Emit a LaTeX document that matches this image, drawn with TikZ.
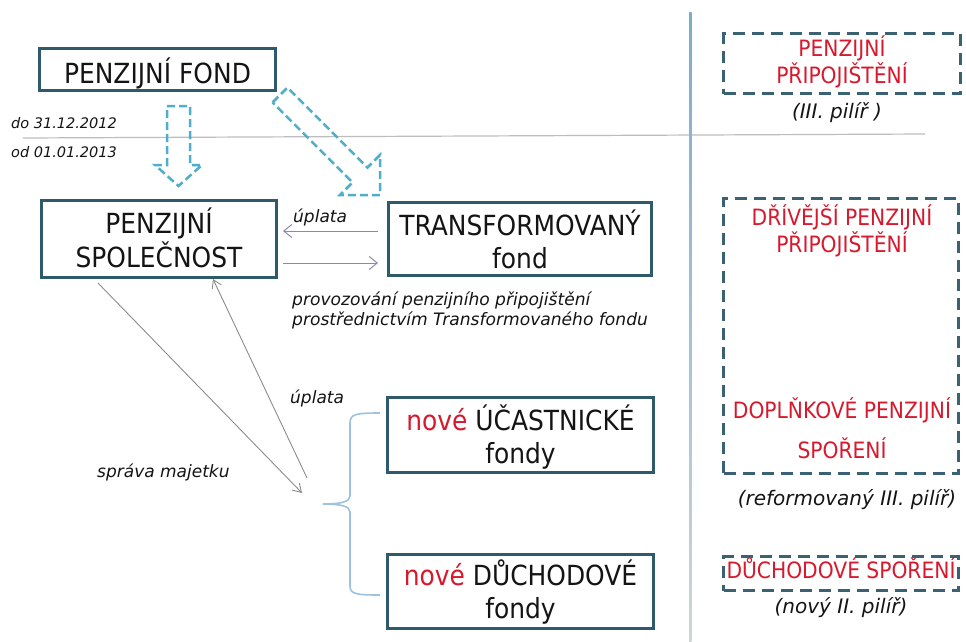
\documentclass[tikz,border=0pt]{standalone}
\usepackage{fontspec}
\setmainfont{DejaVu Sans}[FakeStretch=0.9]
\newfontfamily\itf{DejaVu Sans}
\usetikzlibrary{arrows.meta}
\definecolor{boxc}{HTML}{2E5A6B}
\definecolor{dboxc}{HTML}{3A6272}
\definecolor{blkc}{HTML}{4FAEC9}
\definecolor{redc}{HTML}{D8192D}
\definecolor{txtc}{HTML}{141414}
\definecolor{harr}{HTML}{8A8AB0}
\definecolor{garr}{HTML}{8C8C8C}
\definecolor{hline}{HTML}{BDBDBD}
\definecolor{vtop}{HTML}{78AECB}
\definecolor{vbot}{HTML}{CDD5DA}
\definecolor{bracec}{HTML}{9CC2E0}
\newcommand\bxfont{\fontsize{27.7}{34}\selectfont}
\newcommand\redfont{\fontsize{22.5}{23}\selectfont}
\begin{document}
\begin{tikzpicture}[x=1pt,y=-1pt,
  box/.style={draw=boxc, line width=3pt, fill=white, inner sep=0pt, align=center, font=\bxfont, text=txtc},
  dbox/.style={draw=dboxc, line width=2.8pt, dash pattern=on 12pt off 7pt, inner sep=0pt, align=center, font=\redfont, text=redc},
  redt/.style={font=\redfont, text=redc, inner sep=0pt, anchor=base},
  itl/.style={font=\itf\itshape\fontsize{17}{20}\selectfont, text=txtc, inner sep=0pt, anchor=base west},
  datet/.style={font=\itf\itshape\fontsize{14.5}{17}\selectfont, text=txtc, inner sep=0pt, anchor=base west},
  capt/.style={font=\itf\itshape\fontsize{17.1}{20}\selectfont, text=txtc, inner sep=0pt, anchor=base west},
  pil/.style={font=\itf\itshape\fontsize{20}{22}\selectfont, text=txtc, inner sep=0pt, anchor=base},
  blk/.style={draw=blkc, line width=2.5pt, dash pattern=on 8pt off 4pt, line join=miter},
  harrow/.style={draw=harr, line width=1pt, -{Straight Barb[length=8pt,width=13pt]}},
  garrow/.style={draw=garr, line width=0.9pt, -{Straight Barb[length=8pt,width=10pt]}}
]
\fill[white] (0,0) rectangle (966,641);
\useasboundingbox (0,0) rectangle (966,641);

% separator lines
\draw[hline, line width=1.2pt] (23,138) -- (925,134);
\shade[top color=vtop, bottom color=vbot] (689,12) rectangle (691.5,641);

% boxes
\node[box, minimum width=236pt, minimum height=42pt, text height=27pt, text depth=0pt] (fond) at (157.5,69.5) {PENZIJNÍ FOND};
\node[box, minimum width=235pt, minimum height=77pt, text height=56pt, text depth=0pt] (spol) at (159,239) {PENZIJNÍ\\SPOLEČNOST};
\node[box, minimum width=263pt, minimum height=73pt, text height=58pt, text depth=0pt] (trans) at (520,239) {TRANSFORMOVANÝ\\[-1pt]fond};
\node[box, minimum width=266pt, minimum height=75pt, text height=56pt, text depth=0pt] (ucast) at (520.5,435) {{\color{redc}nové} ÚČASTNICKÉ\\[-1pt]fondy};
\node[box, minimum width=266pt, minimum height=74pt, text height=53pt, text depth=0pt] (duch) at (520.5,591.5) {{\color{redc}nové} DŮCHODOVÉ\\[-1pt]fondy};

% dashed boxes (right column)
\node[dbox, minimum width=237pt, minimum height=60pt, text height=39pt, text depth=0pt] (pp) at (842,63.5) {PENZIJNÍ\\PŘIPOJIŠTĚNÍ};
\node[dbox, minimum width=235pt, minimum height=275pt] (dpp) at (841,336) {};
\node[dbox, minimum width=235pt, minimum height=34pt, text height=17pt, text depth=8pt] (ds) at (841,573.5) {DŮCHODOVÉ SPOŘENÍ};
\node[redt] (dpp1) at (842,225) {DŘÍVĚJŠÍ PENZIJNÍ};
\node[redt] (dpp2) at (842,252) {PŘIPOJIŠTĚNÍ};
\node[redt] (dpp3) at (842,418) {DOPLŇKOVÉ PENZIJNÍ};
\node[redt] (dpp4) at (842,458) {SPOŘENÍ};
\node[pil] (pil3) at (837,118) {(III. pilíř )};
\node[pil] (pil3r) at (847,505) {(reformovaný III. pilíř)};
\node[pil] (pil2) at (841,613) {(nový II. pilíř)};

% dates
\node[datet] (do) at (11,128) {do 31.12.2012};
\node[datet] (od) at (11,157) {od 01.01.2013};

% dashed block arrows
\draw[blk] (167,106) -- (190,106) -- (190,165) -- (202,165) -- (178.5,186) -- (155,165) -- (167,165) -- cycle;
\draw[blk] (272.6,102.4) -- (287.4,87.6) -- (367.4,167.6) -- (380,155) -- (380,195) -- (340,195) -- (352.6,182.4) -- cycle;

% horizontal arrows
\draw[harrow] ([xshift=-9pt,yshift=8pt]trans.west) -- ([xshift=5pt,yshift=8pt]spol.east);
\draw[harrow] ([xshift=5pt,yshift=-24pt]spol.east) -- ([xshift=-9pt,yshift=-24pt]trans.west);
\node[itl] (upl1) at (293,222) {úplata};
\node[capt] (cap1) at (292,305) {provozování penzijního připojištění};
\node[capt] (cap2) at (292,325) {prostřednictvím Transformovaného fondu};

% brace
\draw[bracec, line width=1.6pt] (380,413) .. controls (356,413) and (350,414) .. (350,423) -- (350,496) .. controls (350,502) and (340,504) .. (323,504) .. controls (340,504) and (350,506) .. (350,512) -- (350,586) .. controls (350,594) and (356,595) .. (380,595);

% diagonal arrows
\coordinate (conv1) at (302,493);
\coordinate (conv2) at (307,478);
\draw[garrow] ([xshift=-61pt,yshift=-4pt]spol.south) -- (conv1);
\draw[garrow] (conv2) -- ([xshift=54pt]spol.south);
\node[itl] (upl2) at (290,403) {úplata};
\node[itl] (sprava) at (97,477) {správa majetku};
\end{tikzpicture}
\end{document}
